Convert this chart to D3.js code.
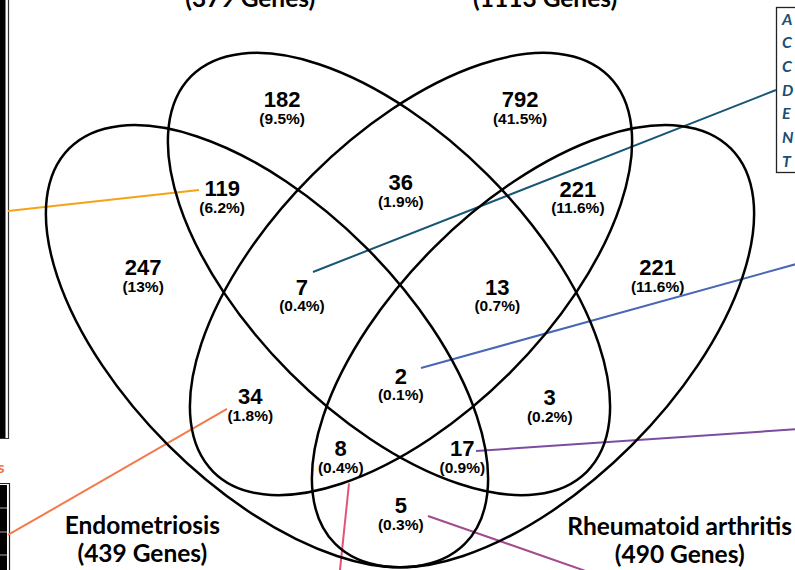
<!DOCTYPE html>
<html lang="en">
<head>
<meta charset="UTF-8">
<title>Venn diagram</title>
<script src="https://d3js.org/d3.v7.min.js"></script>
<style>
body { margin: 0; background: #fff; }
svg { display: block; }
.count { font-family: "Liberation Sans", Arial, sans-serif; font-weight: bold; font-size: 22px; }
.pct { font-family: "Liberation Sans", Arial, sans-serif; font-weight: bold; font-size: 15.5px; }
.setlabel { font-family: Lato, sans-serif; font-weight: bold; font-size: 24.5px; }
.key { font-family: Lato, sans-serif; font-weight: bold; font-style: italic; font-size: 16px; fill: #1b4f72; }
</style>
</head>
<body>
<div id="chart"></div>
<script>
// data: one entry per venn region (sets: A=Endometriosis, B, C, D=Rheumatoid arthritis)
var regionSets   = ["A", "B", "C", "D", "AB", "BC", "CD", "ABC", "BCD", "ABCD", "AC", "BD", "ACD", "ABD", "AD"];
var regionCounts = [247, 182, 792, 221, 119, 36, 221, 7, 13, 2, 34, 3, 8, 17, 5];
var setKeys   = ["A", "B", "C", "D"];
var setNames  = ["Endometriosis", "", "", "Rheumatoid arthritis"];
var keyLetters = ["A", "C", "C", "D", "E", "N", "T"];

// layout (venn units, like VennDiagram's fixed quad layout)
var ellipses = [
  {cx: 0.325,  cy: 0.475, rot: 45},
  {cx: 0.4855, cy: 0.57,  rot: 45},
  {cx: 0.5145, cy: 0.57,  rot: -45},
  {cx: 0.675,  cy: 0.475, rot: -45}
];
var semiA = 0.368, semiB = 0.184;
var labelPos = [
  [0.162, 0.579], [0.345, 0.800], [0.658, 0.800], [0.839, 0.579],
  [0.266, 0.683], [0.501, 0.691], [0.734, 0.682],
  [0.371, 0.553], [0.628, 0.553], [0.501, 0.436],
  [0.303, 0.409], [0.697, 0.408], [0.422, 0.341], [0.582, 0.341], [0.501, 0.266]
];
var setLabelPos = [[0.161, 0.228], [0.303, 0.958], [0.691, 0.958], [0.868, 0.227]];
var leaders = [
  {from: [0.2355, 0.6805], to: [-0.0158, 0.6529], color: "#f5a313"},
  {from: [0.2724, 0.3924], to: [-0.0158, 0.2266], color: "#f47a4c"},
  {from: [0.3855, 0.5726], to: [0.9947, 0.8121], color: "#175674"},
  {from: [0.5276, 0.4463], to: [1.0263, 0.5845], color: "#4867b5"},
  {from: [0.6000, 0.3371], to: [1.0263, 0.3661], color: "#7b4c9f"},
  {from: [0.5368, 0.2516], to: [0.7895, 0.1634], color: "#a24b8e"},
  {from: [0.4329, 0.2945], to: [0.4197, 0.1674], color: "#e5527a"}
];

var width = 795, height = 570;
var x = d3.scaleLinear().domain([0, 1]).range([20, 780]);
var y = d3.scaleLinear().domain([0, 1]).range([707.2, -52.8]);
var k = x(1) - x(0);

var total = d3.sum(regionCounts);
var setTotals = setKeys.map(function(s) {
  return d3.sum(regionCounts.filter(function(c, i) { return regionSets[i].indexOf(s) >= 0; }));
});
function pct(c) { return "(" + (Math.round(c / total * 1000) / 10) + "%)"; }

var svg = d3.select("#chart").append("svg")
  .attr("width", width)
  .attr("height", height);

// cropped neighbour panels at the frame edges
var side = svg.append("g");
side.append("rect").attr("x", 0).attr("y", 0).attr("width", 5.5).attr("height", 438).attr("fill", "#000");
side.append("path").attr("d", "M8.5,0V438.5H0").attr("fill", "none").attr("stroke", "#333").attr("stroke-width", 1.2);
side.append("text").attr("x", 4.5).attr("y", 473).attr("text-anchor", "end")
  .attr("font-family", "Lato, sans-serif").attr("font-weight", "bold").attr("font-size", 16)
  .attr("fill", "#f07440").text("s");
side.append("rect").attr("x", 0).attr("y", 485).attr("width", 7).attr("height", 85).attr("fill", "#000");
side.append("path").attr("d", "M0,483.5H9.5V570").attr("fill", "none").attr("stroke", "#222").attr("stroke-width", 1.2);
side.selectAll(".sep").data([508, 532, 555]).enter().append("line")
  .attr("x1", 0).attr("x2", 7).attr("y1", function(d) { return d; }).attr("y2", function(d) { return d; })
  .attr("stroke", "#aaa").attr("stroke-width", 1);
side.append("rect").attr("x", 776.5).attr("y", 7.5).attr("width", 40).attr("height", 165)
  .attr("fill", "#fff").attr("stroke", "#222").attr("stroke-width", 1.3);
side.selectAll(".key").data(keyLetters).enter().append("text")
  .attr("class", "key")
  .attr("x", 782)
  .attr("y", function(d, i) { return 24.5 + i * 23.7; })
  .text(function(d) { return d; });

// leader lines
svg.selectAll(".leader").data(leaders).enter().append("line")
  .attr("class", "leader")
  .attr("x1", function(d) { return x(d.from[0]); })
  .attr("y1", function(d) { return y(d.from[1]); })
  .attr("x2", function(d) { return x(d.to[0]); })
  .attr("y2", function(d) { return y(d.to[1]); })
  .attr("stroke", function(d) { return d.color; })
  .attr("stroke-width", 2);

// ellipses
svg.selectAll(".set").data(ellipses).enter().append("ellipse")
  .attr("class", "set")
  .attr("cx", function(d) { return x(d.cx); })
  .attr("cy", function(d) { return y(d.cy); })
  .attr("rx", semiA * k)
  .attr("ry", semiB * k)
  .attr("transform", function(d) { return "rotate(" + d.rot + "," + x(d.cx) + "," + y(d.cy) + ")"; })
  .attr("fill", "none")
  .attr("stroke", "#000")
  .attr("stroke-width", 2.5);

// region labels
var lab = svg.selectAll(".region").data(regionCounts).enter().append("g")
  .attr("class", "region")
  .attr("transform", function(d, i) { return "translate(" + x(labelPos[i][0]) + "," + y(labelPos[i][1]) + ")"; });
lab.append("text").attr("class", "count")
  .attr("text-anchor", "middle").attr("y", 8)
  .text(function(d) { return d; });
lab.append("text").attr("class", "pct")
  .attr("text-anchor", "middle").attr("y", 24.5)
  .text(function(d) { return pct(d); });

// set labels
var sl = svg.selectAll(".setlab").data(setTotals).enter().append("g")
  .attr("class", "setlab")
  .attr("transform", function(d, i) { return "translate(" + x(setLabelPos[i][0]) + "," + y(setLabelPos[i][1]) + ")"; });
sl.append("text").attr("class", "setlabel").attr("text-anchor", "middle")
  .text(function(d, i) { return setNames[i]; });
sl.append("text").attr("class", "setlabel").attr("text-anchor", "middle").attr("y", 28)
  .text(function(d) { return "(" + d + " Genes)"; });
</script>
</body>
</html>
